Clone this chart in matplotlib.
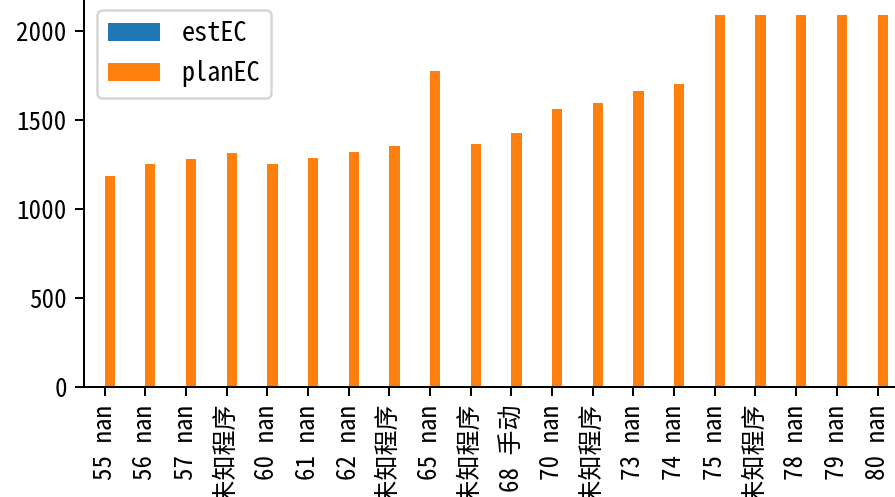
import numpy as np
import pandas as pd
import matplotlib
matplotlib.use("Agg")
import matplotlib.pyplot as plt

# half-width latin like the original SimHei look, with fallbacks
plt.rcParams['font.family'] = ['Noto Sans Mono CJK SC', 'Noto Sans CJK SC', 'DejaVu Sans']

# x tick labels: id + source type
labels = [
    "55 nan", "56 nan", "57 nan", "59 未知程序", "60 nan", "61 nan", "62 nan",
    "64 未知程序", "65 nan", "67 未知程序", "68 手动", "70 nan", "72 未知程序",
    "73 nan", "74 nan", "75 nan", "77 未知程序", "78 nan", "79 nan", "80 nan",
]

# estimated EC is missing for every row
est_ec = [np.nan] * len(labels)
plan_ec = [1186, 1253, 1281, 1315, 1253, 1287, 1320, 1354, 1775, 1365,
           1427, 1561, 1595, 1663, 1702, 2089, 2089, 2089, 2089, 2089]

df = pd.DataFrame({"estEC": est_ec, "planEC": plan_ec}, index=labels)

dpi = 180
fig = plt.figure(figsize=(895 / dpi, 497 / dpi), dpi=dpi)
ax = fig.add_axes([0.0942, 0.2207, 0.909, 0.786])

df.plot(kind="bar", ax=ax)

# the right edge of the axes sits past the canvas in the original
ax.spines['right'].set_visible(False)
ax.legend(loc="upper left", prop={'size': 10.5})

fig.savefig("out.png", dpi=dpi)
